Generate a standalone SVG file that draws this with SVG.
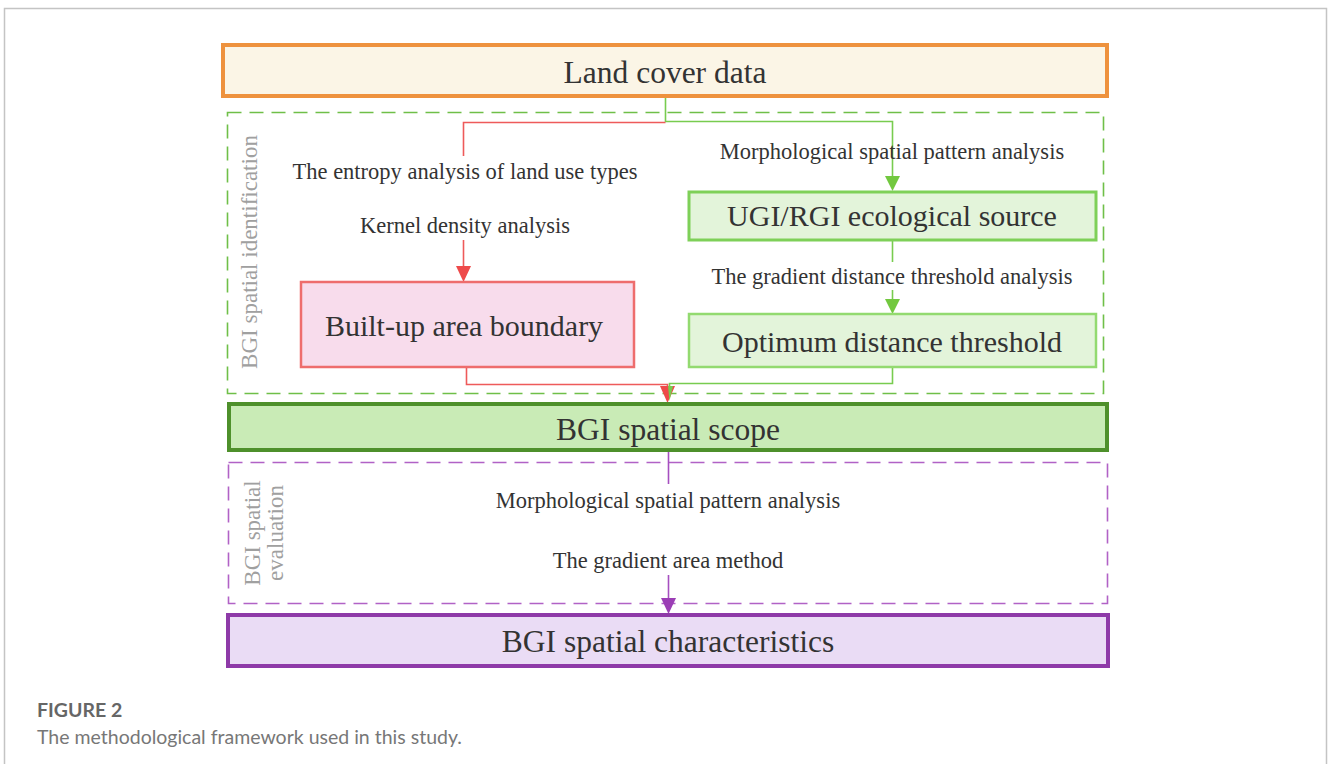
<svg xmlns="http://www.w3.org/2000/svg" width="1328" height="764" viewBox="0 0 1328 764">
  <style>
    .lbl { font-family: "Liberation Serif", "Times New Roman", serif; fill: #333; text-anchor: middle; }
    .big { font-size: 31.5px; }
    .mid { font-size: 30px; }
    .small { font-size: 22.5px; }
    .side { font-family: "Liberation Serif", "Times New Roman", serif; font-size: 23px; fill: #a0a0a0; text-anchor: middle; }
    .cap { font-family: "Lato", "Open Sans", sans-serif; font-size: 19.5px; }
    .red { stroke: #ee5a5a; stroke-width: 1.6; fill: none; }
    .grn { stroke: #78cc4f; stroke-width: 1.6; fill: none; }
    .pur { stroke: #a64fc0; stroke-width: 1.6; fill: none; }
  </style>

  <!-- page frame -->
  <path d="M4.5,764 V8.5 H1326.5 V764" fill="none" stroke="#c4c4c4" stroke-width="1.5"/>

  <!-- dashed grouping frames -->
  <g id="frame-identification">
    <rect x="227.5" y="112.5" width="876" height="281" fill="none" stroke="#6fbf48" stroke-width="1.6" stroke-dasharray="14 8"/>
    <text class="side" transform="translate(257,252) rotate(-90)">BGI spatial identification</text>
  </g>
  <g id="frame-evaluation">
    <rect x="228.5" y="462.5" width="879" height="141" fill="none" stroke="#b162c6" stroke-width="1.6" stroke-dasharray="14 8"/>
    <text class="side" transform="translate(260,533) rotate(-90)">BGI spatial</text>
    <text class="side" transform="translate(283,533) rotate(-90)">evaluation</text>
  </g>

  <!-- connectors -->
  <g id="connectors">
    <!-- land cover to both branches -->
    <path class="grn" d="M665.5,97 V121.5 H892.5 V176"/>
    <path class="red" d="M665.5,122.5 H463.5 V156"/>
    <polygon points="885,176 900,176 892.5,191" fill="#72c83f"/>
    <!-- kernel density to built-up -->
    <path class="red" d="M463.5,240 V268"/>
    <polygon points="456,266 471,266 463.5,282" fill="#ee4a4a"/>
    <!-- ugi to optimum -->
    <path class="grn" d="M892.5,240 V262"/>
    <path class="grn" d="M892.5,290 V300"/>
    <polygon points="885,299 900,299 892.5,314" fill="#72c83f"/>
    <!-- built-up and optimum to scope -->
    <path class="grn" d="M892.5,367 V383.5 H669.5 V390"/>
    <path class="red" d="M466.5,367 V384.5 H667.5 V390"/>
    <polygon points="660,386 675,386 667.5,403" fill="#ee4a4a"/>
    <polygon points="668,386 673,386 669.5,401" fill="#78cc4f"/>
    <!-- scope to characteristics -->
    <path class="pur" d="M668.5,451 V484"/>
    <path class="pur" d="M668.5,575 V600"/>
    <polygon points="661,598 676,598 668.5,614" fill="#9b3eb5"/>
  </g>

  <!-- nodes -->
  <g id="land-cover">
    <rect x="223" y="45" width="884" height="51" fill="#fbf5e6" stroke="#ee923e" stroke-width="4"/>
    <text class="lbl big" x="665" y="83">Land cover data</text>
  </g>

  <g id="entropy-label">
    <text class="lbl small" x="465" y="179">The entropy analysis of land use types</text>
  </g>
  <g id="kernel-label">
    <text class="lbl small" x="465" y="233">Kernel density analysis</text>
  </g>

  <g id="built-up">
    <rect x="301" y="282" width="333" height="85" fill="#f8dcec" stroke="#ee6d6d" stroke-width="2.5"/>
    <text class="lbl mid" x="464" y="336">Built-up area boundary</text>
  </g>

  <g id="mspa-label-1">
    <text class="lbl small" x="892" y="159">Morphological spatial pattern analysis</text>
  </g>

  <g id="ugi-rgi">
    <rect x="689" y="192" width="407" height="48" fill="#e3f4da" stroke="#7ed058" stroke-width="3"/>
    <text class="lbl mid" x="892" y="226">UGI/RGI ecological source</text>
  </g>

  <g id="gradient-distance-label">
    <text class="lbl small" x="892" y="284">The gradient distance threshold analysis</text>
  </g>

  <g id="optimum">
    <rect x="689" y="314" width="407" height="53" fill="#e3f4da" stroke="#93da70" stroke-width="2.5"/>
    <text class="lbl mid" x="892" y="352">Optimum distance threshold</text>
  </g>

  <g id="spatial-scope">
    <rect x="229" y="404" width="878" height="46" fill="#c9ebb6" stroke="#4e902b" stroke-width="4"/>
    <text class="lbl big" x="668" y="440">BGI spatial scope</text>
  </g>

  <g id="mspa-label-2">
    <text class="lbl small" x="668" y="508">Morphological spatial pattern analysis</text>
  </g>
  <g id="gradient-area-label">
    <text class="lbl small" x="668" y="568">The gradient area method</text>
  </g>

  <g id="characteristics">
    <rect x="228" y="615" width="880" height="51" fill="#eadcf5" stroke="#8e3aa8" stroke-width="4"/>
    <text class="lbl big" x="668" y="652">BGI spatial characteristics</text>
  </g>

  <!-- caption -->
  <text class="cap" x="37" y="717" fill="#666" font-weight="bold">FIGURE 2</text>
  <text class="cap" x="37" y="744" fill="#777">The methodological framework used in this study.</text>
</svg>
